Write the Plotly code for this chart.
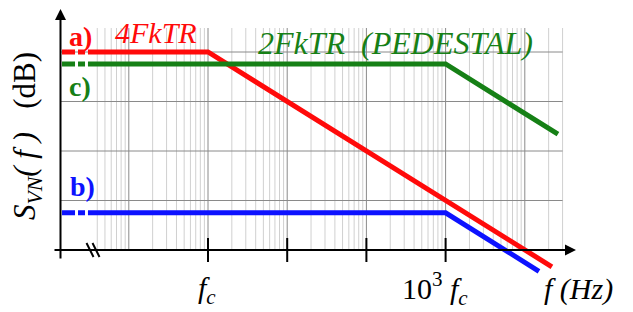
import plotly.graph_objects as go

# ---------------- data (frequency relative to f_c, level in dB) ----------------
lead_freq = [0.01435, 0.0305]            # dashed lead-in (axis break region)
red_freq = [0.0305, 1.0, 22000.0]        # a) 4FkTR
red_db = [40.0, 40.0, -3.4]
green_freq = [0.0305, 1000.0, 26200.0]   # c) 2FkTR (PEDESTAL)
green_db = [37.6, 37.6, 23.4]
blue_freq = [0.0305, 1000.0, 15100.0]    # b)
blue_db = [7.5, 7.5, -4.3]

grid_db = [10, 20, 30, 40]
major_freq = [0.1, 1, 10, 100, 1000, 10000]
minor_lo, minor_hi = 0.04, 30000
tick_freq = [1, 10, 100, 1000]

RED, GREEN, BLUE = "#ff0a0a", "#168016", "#0d12ff"
FONT = "Liberation Serif, Times New Roman, serif"

# ---------------- geometry helpers (layout only, screen pixels) ----------------
OFF = 8                      # page body margin of the html page
W, H = 625, 304              # figure size
L, R, T, B = 40, 600, 12, 285  # plot area in screen pixels
X_FC, PPD = 208.0, 79.2      # pixel of f_c, pixels per decade
Y0, PPDB = 250.0, 4.95       # pixel of 0 dB, pixels per dB


def px_log(px):
    return (px - X_FC) / PPD


def px_f(px):
    return 10 ** px_log(px)


def px_db(py):
    return (Y0 - py) / PPDB


def pxx(px):
    return (px - L) / (R - L)


def pxy(py):
    return (B - py) / (B - T)


fig = go.Figure()

shapes = []
minor = []
for n in range(-2, 5):
    for k in range(2, 10):
        f = k * 10 ** n
        if minor_lo * 0.999 <= f <= minor_hi * 1.001:
            minor.append(f)
grid_top = px_db(28)
for f in minor:
    shapes.append(dict(type="line", xref="x", yref="y", x0=f, x1=f, y0=0, y1=grid_top,
                       line=dict(color="#d0d0d0", width=1), layer="below"))
for f in major_freq:
    shapes.append(dict(type="line", xref="x", yref="y", x0=f, x1=f, y0=0, y1=grid_top,
                       line=dict(color="#8a8a8a", width=1), layer="below"))
for d in grid_db:
    shapes.append(dict(type="line", xref="x", yref="y", x0=px_f(60), x1=minor_hi, y0=d, y1=d,
                       line=dict(color="#8a8a8a", width=1), layer="below"))
# white box behind the pedestal label
shapes.append(dict(type="rect", xref="paper", yref="paper", x0=pxx(251), x1=pxx(539),
                   y0=pxy(61), y1=pxy(22), fillcolor="white", line=dict(width=0), layer="below"))
# x-axis ticks
for f in tick_freq:
    shapes.append(dict(type="line", xref="x", yref="paper", x0=f, x1=f, y0=pxy(262), y1=pxy(238),
                       line=dict(color="black", width=2), layer="above"))
# axis break //
shapes.append(dict(type="line", xref="paper", yref="paper", x0=pxx(89), x1=pxx(97), y0=pxy(250), y1=pxy(250),
                   line=dict(color="white", width=4), layer="above"))
for x0 in (86.5, 92.5):
    shapes.append(dict(type="line", xref="paper", yref="paper", x0=pxx(x0), x1=pxx(x0 + 7),
                       y0=pxy(243), y1=pxy(257), line=dict(color="black", width=2), layer="above"))

# ---------------- traces ----------------
for fr, db, col in ((red_freq, red_db, RED), (green_freq, green_db, GREEN), (blue_freq, blue_db, BLUE)):
    fig.add_trace(go.Scatter(x=lead_freq, y=[db[0], db[0]], mode="lines",
                             line=dict(color=col, width=5, dash="13px,3px,7px,3px"),
                             hoverinfo="skip", showlegend=False))
    fig.add_trace(go.Scatter(x=fr, y=db, mode="lines", line=dict(color=col, width=5),
                             hoverinfo="skip", showlegend=False))

ann = []
ann.append(dict(xref="paper", yref="paper", x=pxx(60.5), y=pxy(9), ax=0, ay=251, text="",
                showarrow=True, arrowhead=2, arrowsize=1.1, arrowwidth=2, arrowcolor="black", standoff=0))
ann.append(dict(xref="paper", yref="paper", x=pxx(576), y=pxy(250), ax=-523, ay=0, text="",
                showarrow=True, arrowhead=2, arrowsize=1.1, arrowwidth=2, arrowcolor="black", standoff=0))


def label(text, xpx, ypx, size, color="black", angle=0):
    ann.append(dict(xref="paper", yref="paper", x=pxx(xpx), y=pxy(ypx), text=text, showarrow=False,
                    xanchor="center", yanchor="middle", textangle=angle,
                    font=dict(family=FONT, size=size, color=color)))


label("<b>a)</b>", 80, 36, 28, RED)
label("<i>4FkTR</i>", 156, 33, 30, RED)
label("<i>2FkTR  (PEDESTAL)</i>", 395, 43, 32, GREEN)
label("<b>c)</b>", 80, 86, 28, GREEN)
label("<b>b)</b>", 82, 187, 28, BLUE)
label("<i>f<sub>c</sub></i>", 207, 290, 30)
label("10<sup>3</sup> <i>f<sub>c</sub></i>", 435, 288, 30)
label("<i>f (Hz)</i>", 578, 289, 30)
label("<i>S<sub>VN</sub>( f )</i>   (dB)", 27, 136, 31, angle=-90)

fig.update_layout(
    width=W, height=H, margin=dict(l=L - OFF, r=W + OFF - R, t=T - OFF, b=H + OFF - B),
    plot_bgcolor="white", paper_bgcolor="white",
    xaxis=dict(type="log", range=[px_log(L), px_log(R)], visible=False),
    yaxis=dict(range=[px_db(B), px_db(T)], visible=False),
    shapes=shapes, annotations=ann, showlegend=False,
)

fig.write_html("out.html")
